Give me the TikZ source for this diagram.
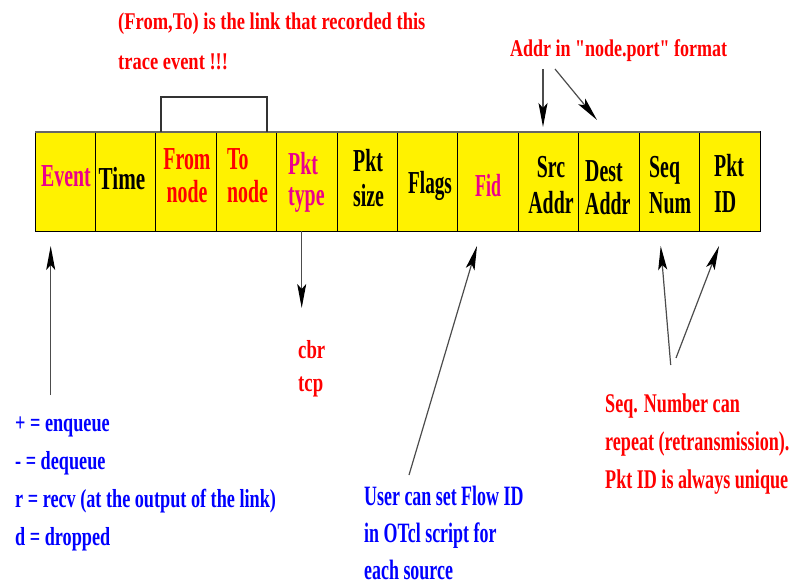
\documentclass[tikz,border=0pt]{standalone}
\usepackage{fontspec}
\setmainfont{Liberation Serif}[Ligatures=TeXOff]
\usepackage{graphicx}
\usetikzlibrary{arrows.meta}

% condensed multi-line label: #1 horizontal squeeze, #2 size, #3 line skip, #4 column alignment, #5 lines
\newcommand\lbl[5]{\scalebox{#1}[1]{\fontsize{#2}{#3}\selectfont\begin{tabular}[t]{@{}#4@{}}#5\end{tabular}}}

\tikzset{
  cellbox/.style={draw=black, line width=1pt, fill=yellow, minimum width=60.42pt,
                  minimum height=99pt, inner sep=0pt, outer sep=0pt},
  celltxt/.style={inner sep=0pt, font=\bfseries, anchor=base},
  celltxtl/.style={inner sep=0pt, font=\bfseries, anchor=base west},
  note/.style={inner sep=0pt, font=\bfseries, anchor=base west},
  pointer/.style={draw=black!70, line width=1.2pt,
                  -{Stealth[length=24pt,width=9pt,inset=5pt,color=black]}},
  bracket/.style={draw=black!80, line width=1.5pt},
}

\begin{document}
\begin{tikzpicture}[x=1pt,y=-1pt]
\useasboundingbox (0,0) rectangle (794,585);

% the twelve fields of a trace line
\foreach \i in {1,...,12}
  \node[cellbox] (c\i) at ({35+60.42*(\i-0.5)},181.5) {};
\draw[black!60, line width=1.2pt] (c1.north west) -- (c12.north east);

% field names
\node[celltxt, magenta] (tEvent) at (66,187) {\lbl{0.62}{32}{33}{c}{Event}};
\node[celltxt] (tTime) at (122,190) {\lbl{0.66}{32}{33}{c}{Time}};
\node[celltxt, red] (tFrom) at (187,170) {\lbl{0.62}{32}{33}{c}{From\\node}};
\node[celltxtl, red] (tTo) at (227,170) {\lbl{0.62}{32}{33}{l}{To\\node}};
\node[celltxtl, magenta] (tType) at (288,175) {\lbl{0.62}{32}{31}{l}{Pkt\\type}};
\node[celltxtl] (tSize) at (353,172) {\lbl{0.62}{32}{35}{l}{Pkt\\size}};
\node[celltxtl] (tFlags) at (408,194) {\lbl{0.6}{32}{33}{l}{Flags}};
\node[celltxtl, magenta] (tFid) at (475,197) {\lbl{0.56}{32}{33}{l}{Fid}};
\node[celltxt] (tSrc) at (551,178) {\lbl{0.62}{32}{36}{c}{Src\\Addr}};
\node[celltxtl] (tDest) at (585,182) {\lbl{0.62}{32}{33}{l}{Dest\\Addr}};
\node[celltxtl] (tSeq) at (649,178) {\lbl{0.62}{32}{36}{l}{Seq\\Num}};
\node[celltxtl] (tPid) at (714,177) {\lbl{0.62}{32}{36}{l}{Pkt\\ID}};

% link bracket over From/To
\coordinate (brL) at (161,132);
\coordinate (brR) at (267,132);
\draw[bracket] (brL) -- (161,97) -- (267,97) -- (brR);

% notes
\node[note, red] (linkNote) at (118,30)
  {\lbl{0.77}{24}{40}{l}{(From,To) is the link that recorded this\\trace event !!!}};
\node[note, red] (addrNote) at (510,57)
  {\lbl{0.75}{24}{40}{l}{Addr in "node.port" format}};
\node[note, red] (typeNote) at (298,358)
  {\lbl{0.72}{26}{33}{l}{cbr\\tcp}};
\node[note, blue] (eventNote) at (15,431)
  {\lbl{0.7}{26}{38}{l}{+ = enqueue\\- = dequeue\\r = recv (at the output of the link)\\d = dropped}};
\node[note, blue] (fidNote) at (364,505)
  {\lbl{0.64}{28}{37}{l}{User can set Flow ID\\in OTcl script for\\each source}};
\node[note, red] (seqNote) at (605,412)
  {\lbl{0.67}{27}{38}{l}{Seq. Number can\\repeat (retransmission).\\Pkt ID is always unique}};

% pointers
\coordinate (addrA) at (543,69);  \coordinate (srcTip) at (543,127);
\coordinate (addrB) at (555,69);  \coordinate (dstTip) at (597,120);
\draw[pointer] (addrA) -- (srcTip);
\draw[pointer] (addrB) -- (dstTip);

\coordinate (evTail) at (50.7,395); \coordinate (evTip) at (50.7,246);
\draw[pointer] (evTail) -- (evTip);

\coordinate (typeTop) at (301.7,231); \coordinate (typeTip) at (301.7,308);
\draw[pointer] (typeTop) -- (typeTip);

\coordinate (fidTail) at (409,475); \coordinate (fidTip) at (477,246);
\draw[pointer] (fidTail) -- (fidTip);

\coordinate (seqTailA) at (670.7,365); \coordinate (seqTip) at (660.7,246);
\coordinate (seqTailB) at (676,358);   \coordinate (pidTip) at (719,246);
\draw[pointer] (seqTailA) -- (seqTip);
\draw[pointer] (seqTailB) -- (pidTip);
\end{tikzpicture}
\end{document}
